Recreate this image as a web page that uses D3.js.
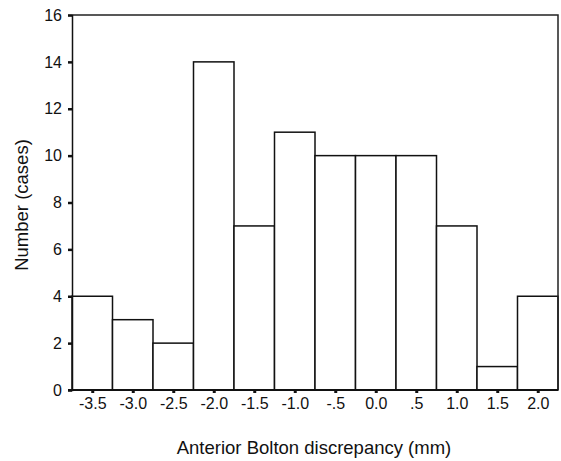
<!DOCTYPE html>
<html>
<head>
<meta charset="utf-8">
<script src="https://cdn.jsdelivr.net/npm/d3@7"></script>
<style>
  body { margin: 0; background: #fff; }
  text { font-family: Arial, "Liberation Sans", sans-serif; fill: #111; }
  .tick text { font-size: 16px; }
</style>
</head>
<body>
<div id="chart"></div>
<script>
// bin centres (mm) and counts
var binCenters = [-3.5, -3.0, -2.5, -2.0, -1.5, -1.0, -0.5, 0.0, 0.5, 1.0, 1.5, 2.0];
var counts     = [4, 3, 2, 14, 7, 11, 10, 10, 10, 7, 1, 4];
var xTickLabels = ["-3.5", "-3.0", "-2.5", "-2.0", "-1.5", "-1.0", "-.5", "0.0", ".5", "1.0", "1.5", "2.0"];
var yTicks = [0, 2, 4, 6, 8, 10, 12, 14, 16];
var binWidth = 0.5;

var width = 561, height = 461,
    margin = {top: 15, right: 3, bottom: 71, left: 72};

var svg = d3.select("#chart").append("svg")
    .attr("width", width).attr("height", height);

var x = d3.scaleLinear()
    .domain([binCenters[0] - binWidth / 2, binCenters[binCenters.length - 1] + binWidth / 2])
    .range([margin.left, width - margin.right]);

var y = d3.scaleLinear()
    .domain([0, 16])
    .range([height - margin.bottom, margin.top]);

// bars
svg.append("g").selectAll("rect")
    .data(binCenters)
    .enter().append("rect")
    .attr("x", function(d) { return x(d - binWidth / 2); })
    .attr("width", function(d) { return x(d + binWidth / 2) - x(d - binWidth / 2); })
    .attr("y", function(d, i) { return y(counts[i]); })
    .attr("height", function(d, i) { return y(0) - y(counts[i]); })
    .attr("fill", "#fff")
    .attr("stroke", "#111")
    .attr("stroke-width", 1.5);

// frame (top and right)
svg.append("path")
    .attr("d", "M" + x.range()[0] + "," + y(16) + "H" + x.range()[1] + "V" + y(0))
    .attr("fill", "none")
    .attr("stroke", "#222")
    .attr("stroke-width", 1.5);

// y axis
var yAxis = svg.append("g")
    .attr("transform", "translate(" + margin.left + ",0)")
    .call(d3.axisLeft(y).tickValues(yTicks).tickSize(4).tickPadding(6));
yAxis.attr("font-size", null);
yAxis.select(".domain").attr("stroke", "#111").attr("stroke-width", 1.5);
yAxis.selectAll(".tick line").attr("stroke", "#111").attr("stroke-width", 2.5);
yAxis.selectAll("text").attr("fill", "#111");

// x axis
var xAxis = svg.append("g")
    .attr("transform", "translate(0," + y(0) + ")")
    .call(d3.axisBottom(x).tickValues(binCenters).tickSize(3).tickPadding(5)
        .tickFormat(function(d, i) { return xTickLabels[i]; }));
xAxis.attr("font-size", null);
xAxis.select(".domain").attr("d", "M" + (margin.left - 4) + ",0H" + x.range()[1])
    .attr("stroke", "#111").attr("stroke-width", 2);
xAxis.selectAll(".tick line").attr("stroke", "#111").attr("stroke-width", 3);
xAxis.selectAll("text").attr("fill", "#111");

// axis titles
svg.append("text")
    .attr("x", 314).attr("y", 454)
    .attr("text-anchor", "middle")
    .style("font-size", "18.5px")
    .text("Anterior Bolton discrepancy (mm)");

svg.append("text")
    .attr("transform", "translate(28," + 205 + ") rotate(-90)")
    .attr("text-anchor", "middle")
    .style("font-size", "18.5px")
    .text("Number (cases)");
</script>
</body>
</html>
